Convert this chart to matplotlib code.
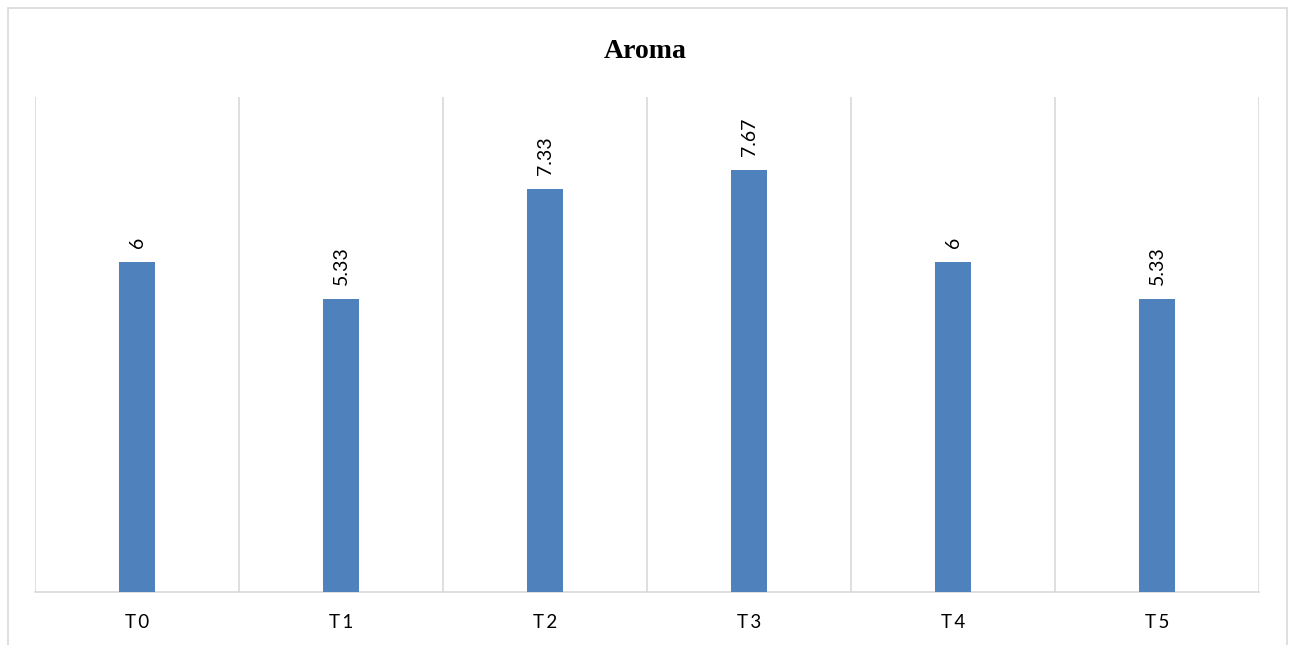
import matplotlib.pyplot as plt
from matplotlib.patches import Rectangle

categories = ["T0", "T1", "T2", "T3", "T4", "T5"]
values = [6, 5.33, 7.33, 7.67, 6, 5.33]
value_labels = ["6", "5.33", "7.33", "7.67", "6", "5.33"]

bar_color = "#4F81BD"
grid_color = "#D9D9D9"

fig = plt.figure(figsize=(12.95, 6.45), dpi=100)
ax = fig.add_axes([35 / 1295, 1 - 592 / 645, (1259 - 35) / 1295, (592 - 97) / 645])

x = list(range(len(categories)))
ax.bar(x, values, width=0.18, color=bar_color, zorder=3)

for xi, v, lab in zip(x, values, value_labels):
    ax.annotate(lab, (xi, v), xytext=(0, 10), textcoords="offset points",
                rotation=90, ha="center", va="bottom", fontsize=14,
                family="Lato", color="#000000")

ax.set_xlim(-0.5, len(categories) - 0.5)
ax.set_ylim(0, 9)

# category separators
for b in range(len(categories) + 1):
    ax.axvline(b - 0.5, color=grid_color, lw=1.2, zorder=1)

ax.set_yticks([])
ax.set_xticks(x)
# letter-spaced category names
ax.set_xticklabels([c[0] + "\u2009" + c[1:] for c in categories],
                   family="Lato", fontsize=13.5)
ax.tick_params(axis="x", length=0, pad=16)
for side in ["top", "left", "right"]:
    ax.spines[side].set_visible(False)
ax.spines["bottom"].set_color(grid_color)
ax.spines["bottom"].set_linewidth(1.2)

fig.text(645 / 1295, 1 - 51 / 645, "Aroma", ha="center", va="center",
         fontsize=20, fontweight="bold", family="Liberation Serif")

fig.patches.append(Rectangle((8 / 1295, -0.05), (1287 - 8) / 1295, 1.05 - 8 / 645,
                             transform=fig.transFigure, fill=False,
                             edgecolor=grid_color, lw=1.2))

fig.savefig("out.png", dpi=100, facecolor="white")
